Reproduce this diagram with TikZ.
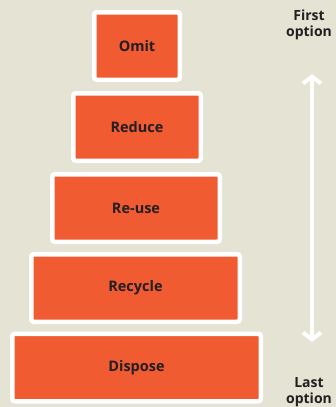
\documentclass[tikz,border=0pt]{standalone}
\usepackage{fontspec}
\setmainfont{Open Sans}
\usetikzlibrary{arrows.meta}
\definecolor{bg}{RGB}{229,227,212}
\definecolor{boxorange}{RGB}{241,91,50}
\definecolor{txt}{RGB}{35,31,32}
\tikzset{
  tier/.style={draw=white, line width=4.5pt, rounded corners=2.5pt, fill=boxorange,
    text=txt, font=\bfseries\fontsize{14.5}{17}\selectfont, inner sep=0pt, minimum height=67.5pt},
  sidelabel/.style={text=txt, font=\bfseries\fontsize{14}{15.5}\selectfont, align=center, inner sep=0pt},
  rankarrow/.style={white, line width=4.5pt, {Straight Barb[length=7pt,width=18pt,line width=4pt]}-{Straight Barb[length=7pt,width=18pt,line width=4pt]}}
}
\begin{document}
\begin{tikzpicture}[x=1pt,y=-1pt]
\fill[bg] (0,0) rectangle (336,407);
\useasboundingbox (0,0) rectangle (336,407);
\node[tier, minimum width=85.5pt] (omit) at (137,46) {Omit};
\node[tier, minimum width=127.5pt] (reduce) at (137,127) {Reduce};
\node[tier, minimum width=167.5pt] (reuse) at (136,208) {Re-use};
\node[tier, minimum width=208.5pt] (recycle) at (135.5,288) {Recycle};
\node[tier, minimum width=248.5pt] (dispose) at (136.5,367.5) {Dispose};
\node[sidelabel] (first) at (309,25) {First\\option};
\node[sidelabel] (last) at (309,392) {Last\\option};
\coordinate (atop) at (312,74);
\coordinate (abot) at (312,342);
\draw[rankarrow] (abot) -- (atop);
\end{tikzpicture}
\end{document}
